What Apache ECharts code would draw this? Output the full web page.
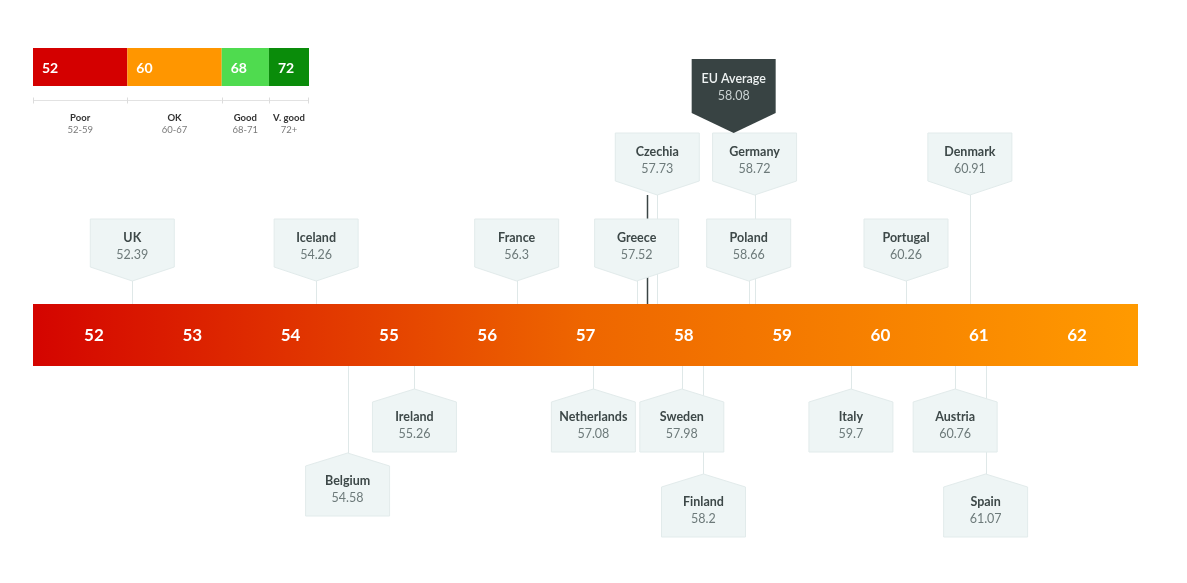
<!DOCTYPE html>
<html>
<head>
<meta charset="utf-8">
<script src="https://cdn.jsdelivr.net/npm/echarts@6/dist/echarts.min.js"></script>
<style>
  html, body { margin: 0; padding: 0; background: #fff; }
  #chart { width: 1187px; height: 583px; }
</style>
</head>
<body>
<div id="chart"></div>
<script>
// scores per country
const countries = ['UK', 'Iceland', 'Belgium', 'Ireland', 'France', 'Netherlands', 'Greece', 'Czechia', 'Sweden',
                   'Finland', 'Poland', 'Germany', 'Italy', 'Portugal', 'Austria', 'Denmark', 'Spain'];
const scores = [52.39, 54.26, 54.58, 55.26, 56.3, 57.08, 57.52, 57.73, 57.98,
                58.2, 58.66, 58.72, 59.7, 60.26, 60.76, 60.91, 61.07];
// which lane the label sits in: negative = above the band, positive = below
const lanes = [-1, -1, 2, 1, -1, 1, -1, -2, 1, 3, -1, -2, 1, -1, 1, -2, 3];

const euLabel = 'EU Average';
const euScore = 58.08;
const markerScore = 57.63;

const tickValues = [52, 53, 54, 55, 56, 57, 58, 59, 60, 61, 62];

// rating key
const legendBreaks = [52, 60, 68, 72];
const legendNames = ['Poor', 'OK', 'Good', 'V. good'];
const legendRanges = ['52-59', '60-67', '68-71', '72+'];
const legendColors = ['#d40000', '#ff9600', '#4fdb4f', '#0a8c0a'];
const LEGEND_MAX = 75.4;

const FONT = 'Lato, "Open Sans", sans-serif';
const HALF_W = 42;
// px from the band edge for each lane
const LANE_OFFSET = { '-2': -171, '-1': -85, '1': 23, '2': 87, '3': 108 };
const LEADER = '#dfe8e8';
const BOX_FILL = '#eef5f5';
const BOX_LINE = '#e2ebeb';

function geom(params, api) {
  const cs = params.coordSys;
  const x = api.coord([api.value(0), 0])[0];
  const lane = api.value(1);
  const off = LANE_OFFSET[String(lane)];
  if (lane < 0) {
    const top = cs.y + off;
    return { x, up: true, top, tip: top + 62, lineFrom: top + 62, lineTo: cs.y };
  }
  const tip = cs.y + cs.height + off;
  return { x, up: false, top: tip, tip, lineFrom: cs.y + cs.height, lineTo: tip };
}

function renderLeader(params, api) {
  const g = geom(params, api);
  return {
    type: 'line',
    shape: { x1: Math.round(g.x) + 0.5, y1: g.lineFrom, x2: Math.round(g.x) + 0.5, y2: g.lineTo },
    style: { stroke: LEADER, lineWidth: 1 }
  };
}

function renderBox(params, api) {
  const g = geom(params, api);
  const x = g.x, l = x - HALF_W, r = x + HALF_W;
  let pts, nameY;
  if (g.up) {
    const t = g.top;
    pts = [[l, t], [r, t], [r, t + 48], [x, t + 62], [l, t + 48]];
    nameY = t + 19;
  } else {
    const t = g.tip;
    pts = [[x, t], [r, t + 13], [r, t + 63], [l, t + 63], [l, t + 13]];
    nameY = t + 28;
  }
  const i = params.dataIndex;
  return {
    type: 'group',
    children: [
      { type: 'polygon', shape: { points: pts }, style: { fill: BOX_FILL, stroke: BOX_LINE, lineWidth: 1 } },
      { type: 'text', style: { text: countries[i], x: x, y: nameY, align: 'center', verticalAlign: 'middle',
          fontFamily: FONT, fontWeight: 'bold', fontSize: 12.5, fill: '#3d4848' } },
      { type: 'text', style: { text: String(scores[i]), x: x, y: nameY + 17, align: 'center', verticalAlign: 'middle',
          fontFamily: FONT, fontSize: 12.5, fill: '#6d7a7a' } }
    ]
  };
}

function renderMarker(params, api) {
  const cs = params.coordSys;
  const x = Math.round(api.coord([api.value(0), 0])[0]) + 0.5;
  return {
    type: 'line',
    shape: { x1: x, y1: cs.y + LANE_OFFSET['-2'] + 62, x2: x, y2: cs.y },
    style: { stroke: '#3a4444', lineWidth: 1.5 }
  };
}

function renderEU(params, api) {
  const cs = params.coordSys;
  const l = api.coord([api.value(0), 0])[0];
  const r = l + HALF_W * 2, c = l + HALF_W;
  const t = cs.y - 245;
  return {
    type: 'group',
    children: [
      { type: 'polygon', shape: { points: [[l, t], [r, t], [r, t + 54], [c, t + 74], [l, t + 54]] },
        style: { fill: '#384343' } },
      { type: 'text', style: { text: euLabel, x: c, y: t + 20, align: 'center', verticalAlign: 'middle',
          fontFamily: FONT, fontWeight: 600, fontSize: 12.5, fill: '#eef2f2' } },
      { type: 'text', style: { text: String(euScore), x: c, y: t + 37, align: 'center', verticalAlign: 'middle',
          fontFamily: FONT, fontSize: 12.5, fill: '#c9d2d2' } }
    ]
  };
}

function renderBand(params) {
  const cs = params.coordSys;
  return {
    type: 'rect',
    shape: { x: cs.x, y: cs.y, width: cs.width, height: cs.height },
    style: {
      fill: new echarts.graphic.LinearGradient(0, 0, 1, 0, [
        { offset: 0, color: '#d40400' },
        { offset: 0.5, color: '#ee6600' },
        { offset: 1, color: '#ff9a00' }
      ])
    }
  };
}

function renderTick(params, api) {
  const cs = params.coordSys;
  const x = api.coord([api.value(0), 0])[0];
  return {
    type: 'text',
    style: { text: String(api.value(0)), x: x, y: cs.y + cs.height / 2 + 1, align: 'center', verticalAlign: 'middle',
      fontFamily: FONT, fontWeight: 'bold', fontSize: 17, fill: '#ffffff' }
  };
}

function renderLegend(params, api) {
  const cs = params.coordSys;
  const i = params.dataIndex;
  const x0 = api.coord([api.value(0), 0])[0];
  const x1 = api.coord([api.value(1), 0])[0];
  const lineY = cs.y + 52.5;
  const mid = (x0 + x1) / 2;
  const kids = [
    { type: 'rect', shape: { x: x0, y: cs.y, width: x1 - x0, height: cs.height }, style: { fill: legendColors[i] } },
    { type: 'text', style: { text: String(legendBreaks[i]), x: x0 + 9, y: cs.y + cs.height / 2 + 1, align: 'left',
        verticalAlign: 'middle', fontFamily: FONT, fontWeight: 'bold', fontSize: 14, fill: '#ffffff' } },
    { type: 'line', shape: { x1: x0, y1: lineY, x2: x1, y2: lineY }, style: { stroke: '#e2e2e2', lineWidth: 1 } },
    { type: 'line', shape: { x1: Math.round(x0) + 0.5, y1: lineY - 3, x2: Math.round(x0) + 0.5, y2: lineY + 3 },
      style: { stroke: '#dcdcdc', lineWidth: 1 } },
    { type: 'text', style: { text: legendNames[i], x: mid, y: cs.y + 70, align: 'center', verticalAlign: 'middle',
        fontFamily: FONT, fontWeight: 'bold', fontSize: 9.5, fill: '#333' } },
    { type: 'text', style: { text: legendRanges[i], x: mid, y: cs.y + 82, align: 'center', verticalAlign: 'middle',
        fontFamily: FONT, fontSize: 9.5, fill: '#7a7a7a' } }
  ];
  if (i === legendBreaks.length - 1) {
    kids.push({ type: 'line', shape: { x1: Math.round(x1) - 0.5, y1: lineY - 3, x2: Math.round(x1) - 0.5, y2: lineY + 3 },
      style: { stroke: '#dcdcdc', lineWidth: 1 } });
  }
  return { type: 'group', children: kids };
}

const countryData = scores.map((s, i) => [s, lanes[i]]);
const legendData = legendBreaks.map((b, i) => [b, i + 1 < legendBreaks.length ? legendBreaks[i + 1] : LEGEND_MAX]);

const chart = echarts.init(document.getElementById('chart'));
chart.setOption({
  animation: false,
  backgroundColor: '#ffffff',
  grid: [
    { left: 33, right: 49, top: 304, height: 62 },
    { left: 33, top: 48, width: 276, height: 38 }
  ],
  xAxis: [
    { type: 'value', gridIndex: 0, min: 51.38, max: 62.62, show: false },
    { type: 'value', gridIndex: 1, min: 52, max: LEGEND_MAX, show: false }
  ],
  yAxis: [
    { type: 'value', gridIndex: 0, min: 0, max: 1, show: false },
    { type: 'value', gridIndex: 1, min: 0, max: 1, show: false }
  ],
  series: [
    { type: 'custom', silent: true, clip: false, z: 1, xAxisIndex: 0, yAxisIndex: 0,
      data: countryData, encode: { x: 0 }, renderItem: renderLeader },
    { type: 'custom', silent: true, clip: false, z: 2, xAxisIndex: 0, yAxisIndex: 0,
      data: [[markerScore]], encode: { x: 0 }, renderItem: renderMarker },
    { type: 'custom', silent: true, clip: false, z: 3, xAxisIndex: 0, yAxisIndex: 0,
      data: countryData, encode: { x: 0 }, renderItem: renderBox },
    { type: 'custom', silent: true, clip: false, z: 4, xAxisIndex: 0, yAxisIndex: 0,
      data: [[euScore]], encode: { x: 0 }, renderItem: renderEU },
    { type: 'custom', silent: true, clip: false, z: 5, xAxisIndex: 0, yAxisIndex: 0,
      data: [[57]], encode: { x: 0 }, renderItem: renderBand },
    { type: 'custom', silent: true, clip: false, z: 6, xAxisIndex: 0, yAxisIndex: 0,
      data: tickValues.map(v => [v]), encode: { x: 0 }, renderItem: renderTick },
    { type: 'custom', silent: true, clip: false, z: 6, xAxisIndex: 1, yAxisIndex: 1,
      data: legendData, encode: { x: [0, 1] }, renderItem: renderLegend }
  ]
});
</script>
</body>
</html>
